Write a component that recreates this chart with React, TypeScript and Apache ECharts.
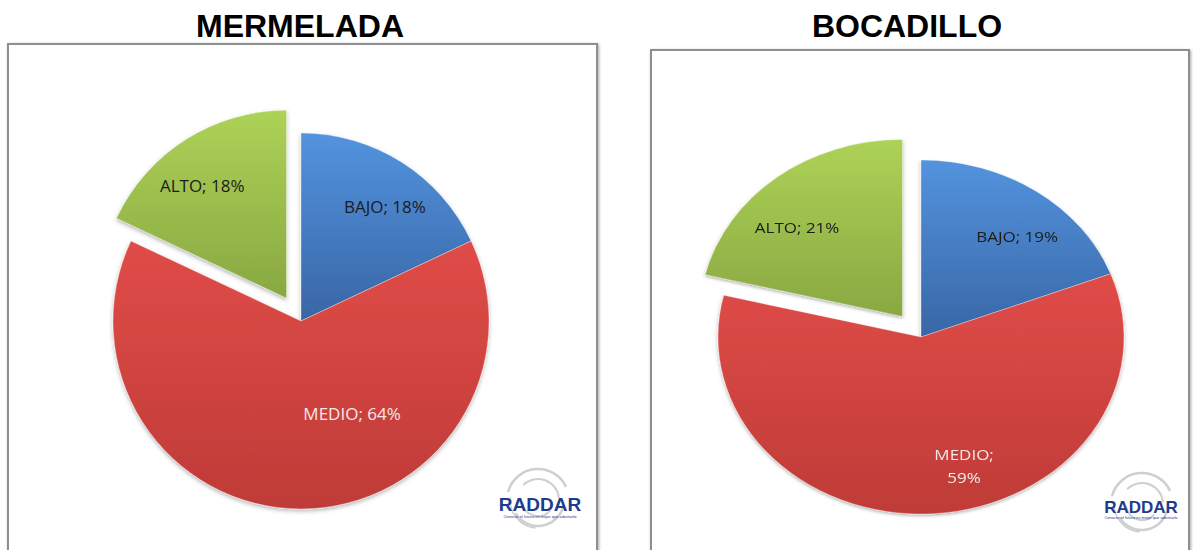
import React, { useEffect, useRef } from "react";
import * as echarts from "echarts";

const TITLES = ["MERMELADA", "BOCADILLO"];
const CATEGORIES = ["BAJO", "MEDIO", "ALTO"];
const MERMELADA_VALUES = [18, 64, 18];
const BOCADILLO_VALUES = [19, 59, 21];
const EXPLODED = "ALTO";
const LOGO_TEXT = "RADDAR";
const LOGO_TAGLINE = "Conocer el futuro es mejor que adivinarlo";

// label placement tweaks (fraction of radius, angle shift in degrees)
const LEFT_LABEL_FRAC = [0.757, 0.56, 0.747];
const LEFT_LABEL_SHIFT = [3.7, -29, -4.5];
const RIGHT_LABEL_FRAC = [0.741, 0.759, 0.724];
const RIGHT_LABEL_SHIFT = [5.2, -12.6, -7.6];

const FILLS = [
  ["#5393DE", "#3866A6"],
  ["#E04C48", "#BF3B37"],
  ["#ADD257", "#89A842"],
];
const LABEL_COLORS = ["#1c1c1c", "#F4E8E8", "#1c1c1c"];
const FONT = '"Open Sans", "Liberation Sans", sans-serif';

function grad(i: number) {
  return new echarts.graphic.LinearGradient(0, 0, 0, 1, [
    { offset: 0, color: FILLS[i][0] },
    { offset: 1, color: FILLS[i][1] },
  ]);
}

function midAngle(values: number[], idx: number) {
  const total = values.reduce((a, b) => a + b, 0);
  let before = 0;
  for (let i = 0; i < idx; i++) before += values[i];
  return ((before + values[idx] / 2) / total) * 360;
}

function labelPos(
  values: number[], idx: number, cx: number, cy: number, r: number,
  frac: number[], shift: number[]
) {
  const a = ((midAngle(values, idx) + shift[idx]) * Math.PI) / 180;
  return [cx + frac[idx] * r * Math.sin(a), cy - frac[idx] * r * Math.cos(a)];
}

function pieSeries(
  values: number[], cx: number, cy: number, r: number,
  frac: number[], shift: number[], wrapIdx: number, onlyExploded: boolean, explode: number
) {
  const explodeIdx = CATEGORIES.indexOf(EXPLODED);
  let pcx = cx, pcy = cy;
  if (onlyExploded) {
    const m = (midAngle(values, explodeIdx) * Math.PI) / 180;
    pcx += explode * Math.sin(m);
    pcy -= explode * Math.cos(m);
  }
  const visible = (i: number) => (onlyExploded ? i === explodeIdx : i !== explodeIdx);
  return {
    type: "pie",
    center: [pcx, pcy],
    radius: r,
    startAngle: 90,
    clockwise: true,
    selectedMode: false,
    avoidLabelOverlap: false,
    minShowLabelAngle: 0,
    emphasis: { disabled: true },
    label: {
      show: true,
      position: "inside",
      fontFamily: FONT,
      fontSize: 17,
      lineHeight: 27,
      formatter: "{b}; {c}%",
    },
    labelLine: { show: false },
    labelLayout: (p: any) => {
      const [x, y] = labelPos(values, p.dataIndex, pcx, pcy, r, frac, shift);
      return { x, y, align: "center", verticalAlign: "middle" };
    },
    data: CATEGORIES.map((c, i) => ({
      name: c,
      value: values[i],
      itemStyle: visible(i)
        ? {
            color: grad(i),
            borderColor: "rgba(255,255,255,0.35)",
            borderWidth: 1,
            shadowBlur: 4,
            shadowColor: "rgba(0,0,0,0.3)",
            shadowOffsetY: 2,
          }
        : { color: "rgba(0,0,0,0)", borderWidth: 0, shadowBlur: 0 },
      label: visible(i)
        ? {
            show: true,
            color: LABEL_COLORS[i],
            ...(i === wrapIdx ? { formatter: "{b};\n{c}%" } : {}),
          }
        : { show: false },
    })),
  };
}

function logo(cx: number, cy: number, tx: number, ty: number, fs: number, tagY: number, tagW: number) {
  const specs = [
    [31, 195, 335, 2.5],
    [26, 15, 150, 2.5],
    [21, 225, 355, 2],
    [16, 40, 170, 2],
    [28, 95, 185, 1.5],
  ];
  const arcs = specs.map(([r, s, e, w]) => ({
    type: "arc",
    z: 1,
    shape: { cx, cy, r, startAngle: (s * Math.PI) / 180, endAngle: (e * Math.PI) / 180 },
    style: { stroke: "#cfcfcf", lineWidth: w, fill: null },
  }));
  return [
    ...arcs,
    {
      type: "text",
      z: 2,
      style: {
        text: LOGO_TEXT, x: tx, y: ty, align: "center", verticalAlign: "middle",
        fontFamily: '"Liberation Sans", Arial, sans-serif', fontWeight: "bold", fontSize: fs, fill: "#1E3C8E",
      },
    },
    {
      type: "text",
      z: 2,
      style: {
        text: LOGO_TAGLINE, x: tx, y: tagY, align: "center", verticalAlign: "middle",
        fontFamily: '"Liberation Sans", Arial, sans-serif', fontSize: 4, fill: "#1E3C8E", width: tagW,
      },
    },
  ];
}

export default function App() {
  const mainRef = useRef<HTMLDivElement>(null);
  const rightRef = useRef<HTMLDivElement>(null);

  useEffect(() => {
    const main = echarts.init(mainRef.current!, null, { renderer: "svg" });
    const right = echarts.init(rightRef.current!, null, { renderer: "svg" });

    const titleStyle = {
      fontFamily: '"Liberation Sans", Arial, sans-serif',
      fontWeight: "bold",
      fontSize: 32,
      fill: "#000",
      align: "center",
      verticalAlign: "middle",
    };
    const boxStyle = {
      fill: "#fff",
      stroke: "#8e8e8e",
      lineWidth: 2,
      shadowBlur: 3,
      shadowColor: "rgba(0,0,0,0.35)",
      shadowOffsetX: 1,
      shadowOffsetY: 1,
    };

    main.setOption({
      animation: false,
      backgroundColor: "#ffffff",
      graphic: [
        { type: "text", z: 0, style: { ...titleStyle, text: TITLES[0], x: 300, y: 26 } },
        { type: "text", z: 0, style: { ...titleStyle, text: TITLES[1], x: 907, y: 26 } },
        { type: "rect", z: 0, shape: { x: 8, y: 44, width: 589, height: 530 }, style: boxStyle },
        { type: "rect", z: 0, shape: { x: 651, y: 50, width: 538, height: 530 }, style: boxStyle },
        ...logo(538, 500, 540, 504, 19, 516, 90),
        ...logo(1142, 504, 1141, 507, 17, 517, 80),
      ],
      series: [
        pieSeries(MERMELADA_VALUES, 301, 321, 188, LEFT_LABEL_FRAC, LEFT_LABEL_SHIFT, -1, false, 27),
        pieSeries(MERMELADA_VALUES, 301, 321, 188, LEFT_LABEL_FRAC, LEFT_LABEL_SHIFT, -1, true, 27),
      ],
    });

    right.setOption({
      animation: false,
      series: [
        pieSeries(BOCADILLO_VALUES, 270, 287, 203, RIGHT_LABEL_FRAC, RIGHT_LABEL_SHIFT, 1, false, 30),
        pieSeries(BOCADILLO_VALUES, 270, 287, 203, RIGHT_LABEL_FRAC, RIGHT_LABEL_SHIFT, 1, true, 30),
      ],
    });

    return () => {
      main.dispose();
      right.dispose();
    };
  }, []);

  return (
    <div>
      <div
        ref={mainRef}
        style={{ position: "fixed", left: 0, top: 0, width: 1193, height: 550 }}
      />
      <div
        ref={rightRef}
        style={{
          position: "fixed",
          left: 651,
          top: 50,
          width: 538,
          height: 500,
          transform: "scaleY(0.872)",
          transformOrigin: "270px 287px",
        }}
      />
    </div>
  );
}
